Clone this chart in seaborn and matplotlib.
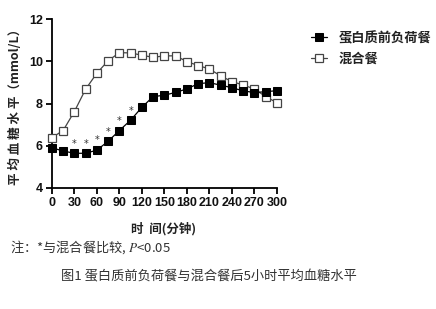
import matplotlib
matplotlib.use("Agg")
import matplotlib.pyplot as plt
import seaborn as sns
import numpy as np
import pandas as pd

time_min = [0, 15, 30, 45, 60, 75, 90, 105, 120, 135, 150, 165, 180, 195, 210, 225, 240, 255, 270, 285, 300]
protein_preload = [5.90, 5.75, 5.64, 5.64, 5.79, 6.21, 6.72, 7.21, 7.82, 8.33, 8.39, 8.53, 8.69, 8.94, 8.99, 8.87, 8.75, 8.60, 8.52, 8.56, 8.61]
mixed_meal = [6.38, 6.72, 7.62, 8.68, 9.44, 10.03, 10.41, 10.40, 10.29, 10.19, 10.26, 10.26, 9.99, 9.80, 9.64, 9.31, 9.04, 8.88, 8.69, 8.33, 8.04]
sig_times = [30, 45, 60, 75, 90, 105]
x_ticks = [0, 30, 60, 90, 120, 150, 180, 210, 240, 270, 300]
y_ticks = [4, 6, 8, 10, 12]
series_names = ["蛋白质前负荷餐", "混合餐"]

sns.set_style("ticks")
plt.rcParams['font.family'] = ['Noto Sans CJK SC', 'DejaVu Sans']
plt.rcParams['mathtext.fontset'] = 'stix'

df_p = pd.DataFrame({"t": time_min, "v": protein_preload})
df_m = pd.DataFrame({"t": time_min, "v": mixed_meal})

fig = plt.figure(figsize=(4.36, 3.09), dpi=100)
ax = fig.add_axes([0.119, 0.392, 0.516, 0.546])

sns.lineplot(data=df_p, x="t", y="v", ax=ax, color="black", lw=0.9,
             marker="s", markersize=5.5, markerfacecolor="black",
             markeredgecolor="black", label=series_names[0], clip_on=False, zorder=4)
sns.lineplot(data=df_m, x="t", y="v", ax=ax, color="#444444", lw=0.9,
             marker="s", markersize=5.5, markerfacecolor="white",
             markeredgecolor="#444444", markeredgewidth=0.9, label=series_names[1],
             clip_on=False, zorder=3)

for t in sig_times:
    v = protein_preload[time_min.index(t)]
    ax.text(t, v + 0.22, "*", ha="center", va="bottom", fontsize=7, color="#333333",
            family="DejaVu Sans")

ax.set_xlim(0, 300)
ax.set_ylim(4, 12)
ax.set_xticks(x_ticks)
ax.set_yticks(y_ticks)
ax.spines["top"].set_visible(False)
ax.spines["right"].set_visible(False)
for s in ["left", "bottom"]:
    ax.spines[s].set_linewidth(1.3)
    ax.spines[s].set_color("black")
ax.tick_params(width=1.3, length=4.5, color="black", pad=2)
for lab in ax.get_xticklabels() + ax.get_yticklabels():
    lab.set_family("Liberation Sans")
    lab.set_fontweight("bold")
    lab.set_fontsize(9)
    lab.set_color("#111111")
ax.set_xlabel("")
ax.set_ylabel("平 均 血 糖 水 平（mmol/L）", fontsize=9, fontweight="bold", color="#222222", labelpad=5)

leg = ax.legend(loc="upper left", bbox_to_anchor=(1.1, 1.0), frameon=False,
                handlelength=1.2, handletextpad=0.9, labelspacing=0.5, fontsize=9.5)
for txt in leg.get_texts():
    txt.set_fontweight("bold")
    txt.set_color("#222222")

fig.text(0.375, 0.258, "时  间(分钟)", ha="center", va="center", fontsize=9,
         fontweight="bold", color="#222222")
fig.text(0.022, 0.2, "注：*与混合餐比较, $P$<0.05", ha="left", va="center", fontsize=9.5,
         color="#333333")
fig.text(0.48, 0.104, "图1 蛋白质前负荷餐与混合餐后5小时平均血糖水平", ha="center", va="center",
         fontsize=9.5, color="#333333")

fig.savefig("out.png", dpi=100)
